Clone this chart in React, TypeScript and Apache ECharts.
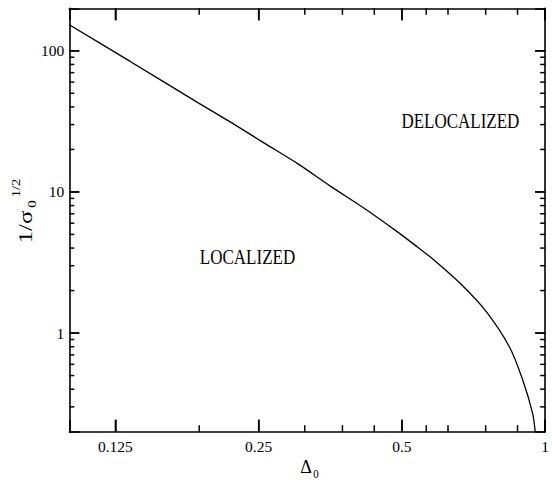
import React, { useEffect, useRef } from "react";
import * as echarts from "echarts";

// Tick values
const X_MAJOR = [0.125, 0.25, 0.5, 1];
const X_MINOR = [0.1875, 0.3125, 0.375, 0.4375, 0.5625, 0.625, 0.75, 0.875];
const Y_MAJOR = [1, 10, 100];
const Y_MINOR = [
  0.3, 0.4, 0.5, 0.6, 0.7, 0.8, 0.9,
  2, 3, 4, 5, 6, 7, 8, 9,
  20, 30, 40, 50, 60, 70, 80, 90,
];

// Axis ranges
const X_RANGE = [0.1, 1];
const Y_RANGE = [0.2, 200];

// Phase boundary curve
const DELTA0 = [
  0.1, 0.134, 0.187, 0.22, 0.258, 0.3025, 0.355, 0.4165, 0.4886, 0.538,
  0.583, 0.662, 0.752, 0.841, 0.897, 0.941, 0.953,
];
const INV_SQRT_SIGMA0 = [
  153, 84.4, 42.6, 30.7, 22.0, 15.8, 10.9, 7.66, 5.23, 4.09,
  3.31, 2.26, 1.42, 0.8, 0.467, 0.271, 0.2,
];

const REGION_LABELS = ["LOCALIZED", "DELOCALIZED"];

const FONT = '"Liberation Serif", "Times New Roman", serif';

const GRID = { left: 69.3, right: 2.7, top: 8.3, bottom: 48.3 };
const W = 552;
const H = 480;

const XMAJ = 12, XMIN = 6.5, YMAJ = 10, YMIN = 5, TW = 1.5;

function fmt(v: number) {
  return String(+Number(v).toPrecision(6));
}

function xAxisDef(position: "bottom" | "top") {
  return {
    type: "log",
    logBase: 2,
    min: X_RANGE[0],
    max: X_RANGE[1],
    position,
    axisLine: { show: true, onZero: false, lineStyle: { color: "#000", width: 1.6 } },
    axisTick: {
      show: true,
      inside: true,
      length: XMAJ,
      lineStyle: { color: "#000", width: TW },
    },
    axisLabel: {
      show: position === "bottom",
      customValues: X_MAJOR,
      formatter: (v: number) => fmt(v),
      margin: 7,
      color: "#000",
      fontFamily: FONT,
      fontSize: 15.5,
    },
    splitLine: { show: false },
    minorTick: { show: false },
    minorSplitLine: { show: false },
  };
}

function yAxisDef(position: "left" | "right") {
  return {
    type: "log",
    logBase: 10,
    min: Y_RANGE[0],
    max: Y_RANGE[1],
    position,
    axisLine: { show: true, onZero: false, lineStyle: { color: "#000", width: 1.6 } },
    axisTick: {
      show: true,
      inside: true,
      length: YMAJ,
      lineStyle: { color: "#000", width: TW },
    },
    axisLabel: {
      show: position === "left",
      customValues: Y_MAJOR,
      formatter: (v: number) => fmt(v),
      margin: 5,
      color: "#000",
      fontFamily: FONT,
      fontSize: 15.5,
    },
    splitLine: { show: false },
    minorTick: { show: false },
    minorSplitLine: { show: false },
  };
}

function txt(
  text: string,
  x: number,
  y: number,
  size: number,
  extra: Record<string, unknown> = {}
) {
  return {
    type: "text",
    x,
    y,
    silent: true,
    ...extra,
    style: {
      text,
      fill: "#000",
      font: `${size}px ${FONT}`,
      align: "center",
      textAlign: "center",
      verticalAlign: "middle",
      textVerticalAlign: "middle",
    },
  };
}

// One tick mark as a two-point line series in data space
function tickLine(a: number[], b: number[]) {
  return {
    type: "line",
    xAxisIndex: 0,
    yAxisIndex: 0,
    silent: true,
    clip: false,
    showSymbol: false,
    symbol: "none",
    z: 3,
    lineStyle: { color: "#000", width: TW },
    data: [a, b],
  };
}

function toNum(r: any): number {
  if (Array.isArray(r)) return Number(r[0]);
  return Number(r);
}

export default function App() {
  const ref = useRef<HTMLDivElement>(null);

  useEffect(() => {
    if (!ref.current) return;
    const chart = echarts.init(ref.current, undefined, { renderer: "svg" });
    const curve = {
      type: "line",
      xAxisIndex: 0,
      yAxisIndex: 0,
      data: DELTA0.map((d, i) => [d, INV_SQRT_SIGMA0[i]]),
      showSymbol: false,
      symbol: "none",
      smooth: 0.3,
      lineStyle: { color: "#000", width: 1.3 },
      clip: true,
    };
    const base = {
      animation: false,
      backgroundColor: "#fff",
      grid: { ...GRID, containLabel: false },
      xAxis: [xAxisDef("bottom"), xAxisDef("top")],
      yAxis: [yAxisDef("left"), yAxisDef("right")],
      series: [curve],
    };
    chart.setOption(base as any);

    // Data values lying a given pixel distance inside each edge, from the axes' scales
    const safe = (f: () => number) => {
      try { return f(); } catch (e) { return NaN; }
    };
    const px = (v: number) => safe(() => toNum(chart.convertToPixel({ xAxisIndex: 0 } as any, v as any)));
    const py = (v: number) => safe(() => toNum(chart.convertToPixel({ yAxisIndex: 0 } as any, v as any)));
    const fx = (p: number) => safe(() => toNum(chart.convertFromPixel({ xAxisIndex: 0 } as any, p as any)));
    const fy = (p: number) => safe(() => toNum(chart.convertFromPixel({ yAxisIndex: 0 } as any, p as any)));

    const plotW = W - GRID.left - GRID.right;
    const plotH = H - GRID.top - GRID.bottom;
    const okPos = (n: number) => isFinite(n) && n > 0;

    const yInside = (edge: "bottom" | "top", len: number) => {
      const edgePx = py(edge === "bottom" ? Y_RANGE[0] : Y_RANGE[1]);
      const v = isFinite(edgePx) ? fy(edge === "bottom" ? edgePx - len : edgePx + len) : NaN;
      if (okPos(v)) return v;
      const r = Math.pow(Y_RANGE[1] / Y_RANGE[0], len / plotH);
      return edge === "bottom" ? Y_RANGE[0] * r : Y_RANGE[1] / r;
    };
    const xInside = (edge: "left" | "right", len: number) => {
      const edgePx = px(edge === "left" ? X_RANGE[0] : X_RANGE[1]);
      const v = isFinite(edgePx) ? fx(edge === "left" ? edgePx + len : edgePx - len) : NaN;
      if (okPos(v)) return v;
      const r = Math.pow(X_RANGE[1] / X_RANGE[0], len / plotW);
      return edge === "left" ? X_RANGE[0] * r : X_RANGE[1] / r;
    };

    const tickSeries: any[] = [];
    const addX = (vals: number[], len: number) => {
      const yb = yInside("bottom", len);
      const yt = yInside("top", len);
      vals.forEach((v) => {
        tickSeries.push(tickLine([v, Y_RANGE[0]], [v, yb]));
        tickSeries.push(tickLine([v, Y_RANGE[1]], [v, yt]));
      });
    };
    const addY = (vals: number[], len: number) => {
      const xl = xInside("left", len);
      const xr = xInside("right", len);
      vals.forEach((v) => {
        tickSeries.push(tickLine([X_RANGE[0], v], [xl, v]));
        tickSeries.push(tickLine([X_RANGE[1], v], [xr, v]));
      });
    };
    addX(X_MAJOR, XMAJ);
    addX(X_MINOR, XMIN);
    addY(Y_MAJOR, YMAJ);
    addY(Y_MINOR, YMIN);

    chart.setOption({
      series: [curve, ...tickSeries],
      graphic: {
        elements: [
          txt(REGION_LABELS[0], 247.5, 256.7, 17, { scaleY: 1.2 }),
          txt(REGION_LABELS[1], 460.4, 120.5, 17, { scaleY: 1.2 }),
          // x-axis title  Δ0
          txt("Δ", 306, 466.5, 18, { scaleY: 1.1 }),
          txt("0", 316, 474.5, 11, { scaleY: 1.1 }),
          // y-axis title 1/σ0^(1/2)
          txt("1/σ", 26, 227, 19, { rotation: Math.PI / 2, scaleX: 1.3 }),
          txt("0", 32, 204, 12.5, { rotation: Math.PI / 2, scaleX: 1.2 }),
          txt("1/2", 16, 188, 11.5, { rotation: Math.PI / 2, scaleX: 1.25 }),
        ],
      },
    } as any);
    return () => chart.dispose();
  }, []);

  return (
    <div
      ref={ref}
      style={{ position: "absolute", left: 0, top: 0, width: W, height: H }}
    />
  );
}
